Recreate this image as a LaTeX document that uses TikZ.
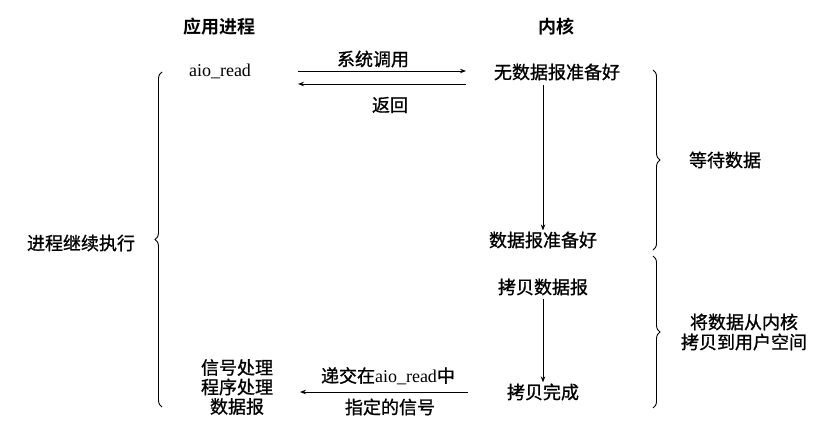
\documentclass[tikz,border=0pt]{standalone}
\usepackage{fontspec}
\setmainfont{Liberation Serif}
\newfontfamily\cjk{Noto Sans CJK SC}[FakeBold=1]
\newfontfamily\cjkb{Noto Sans CJK SC Bold}
\usetikzlibrary{arrows.meta,decorations.pathreplacing}
\begin{document}
\begin{tikzpicture}[x=1pt,y=-1pt,
  lbl/.style={font=\cjk\fontsize{18}{19.5}\selectfont, inner sep=1pt, align=center},
  hdr/.style={font=\cjkb\fontsize{18}{19}\selectfont, inner sep=1pt},
  arr/.style={line width=0.9pt, -{Stealth[length=6pt,width=4.5pt]}},
  brc/.style={line width=0.9pt, decorate, decoration={brace, amplitude=7pt}}]
\useasboundingbox (0,0) rectangle (834,443);
% headers
\node[hdr] (happ) at (219,27) {应用进程};
\node[hdr] (hker) at (556,27) {内核};
% application side
\node[lbl, font=\rmfamily\fontsize{18}{19}\selectfont] (aio) at (220,71) {aio\_read};
\node[lbl] (sig) at (237,387) {信号处理\\程序处理\\数据报};
% kernel side
\node[lbl] (k1) at (557,72) {无数据报准备好};
\node[lbl] (k2) at (543,240) {数据报准备好};
\node[lbl] (k3) at (543,287) {拷贝数据报};
\node[lbl] (k4) at (543,392) {拷贝完成};
% horizontal arrows
\coordinate (a1s) at (298,71); \coordinate (a1e) at (466,71);
\coordinate (a2s) at (466,84); \coordinate (a2e) at (298,84);
\coordinate (a3s) at (468,392); \coordinate (a3e) at (300,392);
\draw[arr] (a1s) -- (a1e);
\draw[arr] (a2s) -- (a2e);
\draw[arr] (a3s) -- (a3e);
\node[lbl] (call) at (373,59) {系统调用};
\node[lbl] (ret) at (390,105) {返回};
\node[lbl] (deliv) at (388,376) {递交在{\rmfamily aio\_read}中};
\node[lbl] (spec) at (390,407) {指定的信号};
% vertical arrows
\draw[arr] (k1.south -| 543,0) ++(0,3) -- (k2.north -| 543,0);
\draw[arr] (k3.south -| 543,0) ++(0,2) -- (k4.north -| 543,0);
% braces
\coordinate (lb1) at (162,407); \coordinate (lb2) at (162,72);
\draw[brc] (lb1) -- (lb2);
\node[lbl] (cont) at (81,243) {进程继续执行};
\coordinate (rb1) at (653,70); \coordinate (rb2) at (653,250);
\draw[brc] (rb1) -- (rb2);
\node[lbl] (wait) at (725,160) {等待数据};
\coordinate (rc1) at (653,256); \coordinate (rc2) at (653,408);
\draw[brc] (rc1) -- (rc2);
\node[lbl, font=\cjk\fontsize{18}{20}\selectfont] (copy) at (744,332) {将数据从内核\\拷贝到用户空间};
\end{tikzpicture}
\end{document}
